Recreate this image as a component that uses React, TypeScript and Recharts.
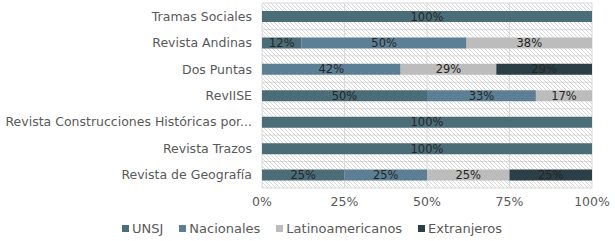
import React from 'react';
import { BarChart, Bar, XAxis, YAxis, CartesianGrid, LabelList, Legend } from 'recharts';

const categories = [
  'Tramas Sociales',
  'Revista Andinas ',
  'Dos Puntas',
  'RevIISE',
  'Revista Construcciones Históricas por...',
  'Revista Trazos',
  'Revista de Geografía',
];
const unsj = [100, 12, null, 50, 100, 100, 25];
const nacionales = [null, 50, 42, 33, null, null, 25];
const latinoamericanos = [null, 38, 29, 17, null, null, 25];
const extranjeros = [null, null, 29, null, null, null, 25];
const xTicks = [0, 25, 50, 75, 100];

const seriesNames = ['UNSJ', 'Nacionales', 'Latinoamericanos', 'Extranjeros'];
const seriesKeys = ['unsj', 'nacionales', 'latinoamericanos', 'extranjeros'];
const seriesColors = ['#4a6d78', '#5c7f95', '#bcbcbc', '#2c3f46'];

const data = categories.map((name, i) => ({
  name,
  unsj: unsj[i],
  nacionales: nacionales[i],
  latinoamericanos: latinoamericanos[i],
  extranjeros: extranjeros[i],
}));

const FONT = '"DejaVu Sans", sans-serif';
const FS = 12.5;

const renderLegend = () => (
  <div style={{ display: 'flex', justifyContent: 'flex-start', paddingLeft: 122, paddingTop: 9, fontFamily: FONT, fontSize: 13, color: '#595959', lineHeight: '15px' }}>
    {seriesNames.map((n, i) => (
      <div key={n} style={{ display: 'flex', alignItems: 'center', marginRight: 16 }}>
        <span style={{ display: 'inline-block', width: 7, height: 7, background: seriesColors[i], marginRight: 3 }} />
        <span>{n}</span>
      </div>
    ))}
  </div>
);

export default function App() {
  return (
    <div style={{ position: 'fixed', left: 0, top: 0, width: 615, height: 241, background: '#fff' }}>
      <svg width={0} height={0} style={{ position: 'absolute' }}>
        <defs>
          <pattern id="hatch" width={4} height={4} patternUnits="userSpaceOnUse">
            <rect width={4} height={4} fill="#ffffff" />
            <path d="M-1,-1 L5,5 M3,-1 L5,1 M-1,3 L1,5" stroke="#d6d6d6" strokeWidth={1} />
          </pattern>
        </defs>
      </svg>
      <BarChart
        width={615}
        height={241}
        data={data}
        layout="vertical"
        margin={{ top: 3, right: 23, bottom: 0, left: 0 }}
        barSize={11}
      >
        <CartesianGrid
          stroke="#d9d9d9"
          fill="url(#hatch)"
          fillOpacity={1}
          horizontalCoordinatesGenerator={({ offset }: any) =>
            Array.from({ length: categories.length + 1 }, (_, i) => offset.top + (i * offset.height) / categories.length)
          }
        />
        <XAxis
          type="number"
          domain={[0, 100]}
          ticks={xTicks}
          tickFormatter={(v: number) => `${v}%`}
          axisLine={false}
          tickLine={false}
          tickSize={0}
          tickMargin={9}
          height={24}
          tick={{ fill: '#595959', fontSize: FS, fontFamily: FONT }}
        />
        <YAxis
          type="category"
          dataKey="name"
          width={262}
          axisLine={false}
          tickLine={false}
          tickSize={0}
          tickMargin={10}
          interval={0}
          tick={{ fill: '#595959', fontSize: FS, fontFamily: FONT }}
        />
        <Legend verticalAlign="bottom" height={29} content={renderLegend} />
        {seriesKeys.map((k, i) => (
          <Bar key={k} dataKey={k} name={seriesNames[i]} stackId="a" fill={seriesColors[i]} isAnimationActive={false}>
            <LabelList
              dataKey={k}
              position="center"
              formatter={(v: any) => (v == null ? '' : `${v}%`)}
              style={{ fill: '#262626', fontSize: 11.5, fontFamily: FONT }}
            />
          </Bar>
        ))}
      </BarChart>
    </div>
  );
}
